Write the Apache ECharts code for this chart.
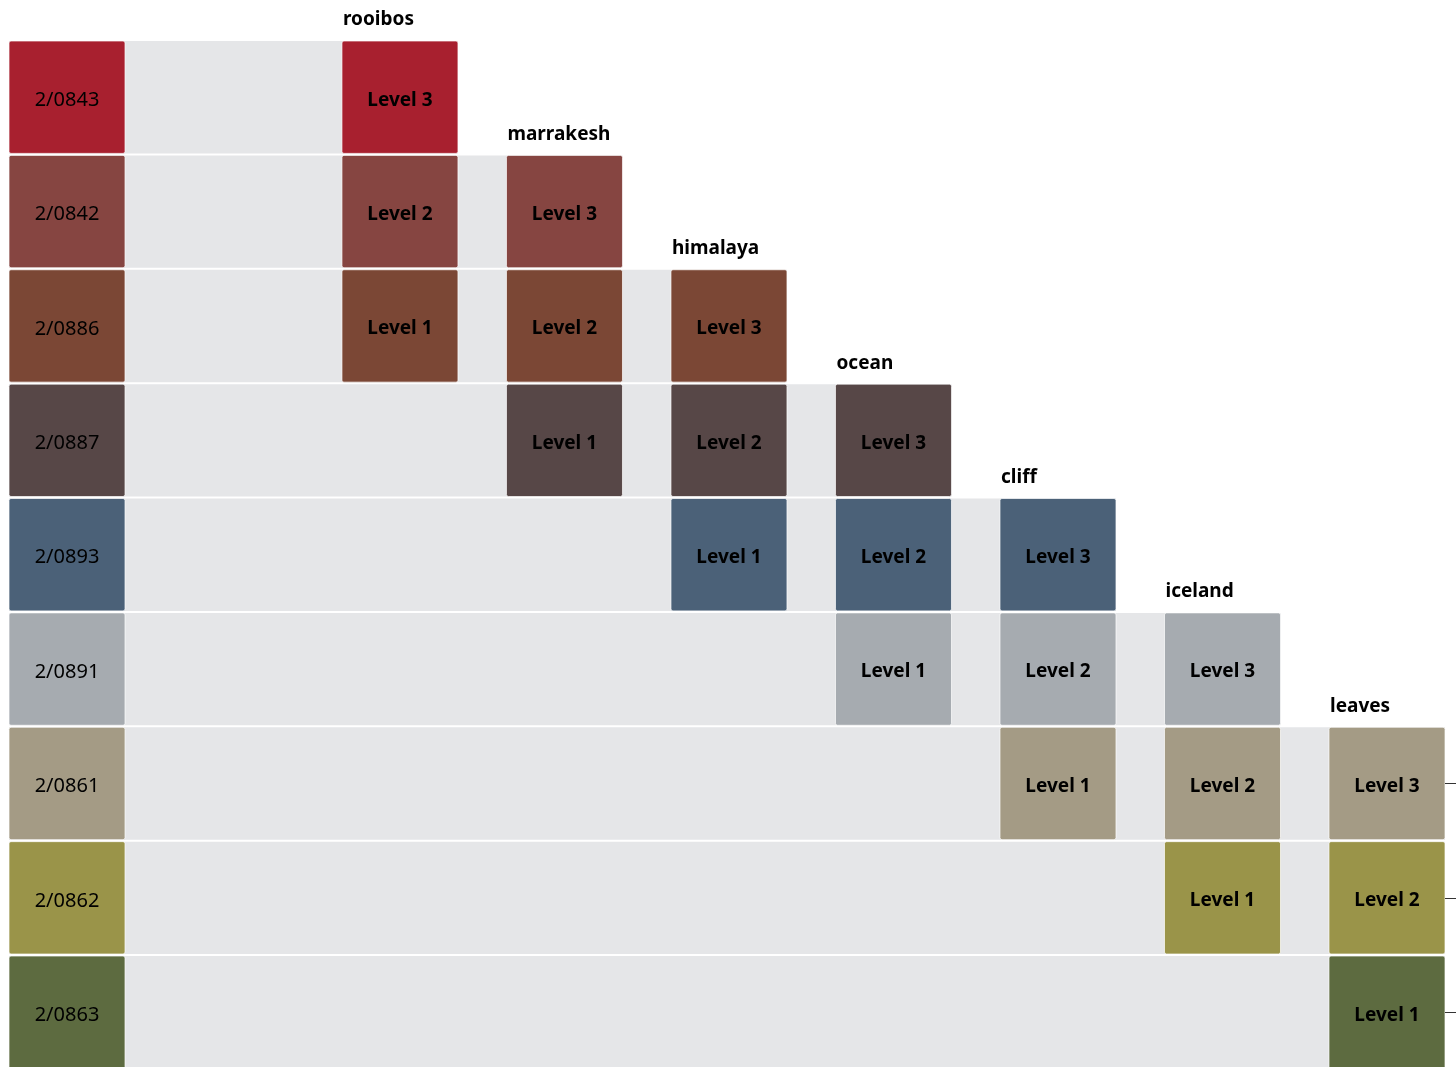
<!DOCTYPE html>
<html>
<head>
<meta charset="utf-8">
<script src="https://cdn.jsdelivr.net/npm/echarts@6/dist/echarts.min.js"></script>
<style>
  html, body { margin: 0; padding: 0; background: #fff; }
  #chart { width: 1456px; height: 1067px; }
</style>
</head>
<body>
<div id="chart"></div>
<script>
// colour swatches, top to bottom
const colorCodes = ['2/0843', '2/0842', '2/0886', '2/0887', '2/0893', '2/0891', '2/0861', '2/0862', '2/0863'];
const colorHex = ['#a8202f', '#864541', '#7b4735', '#574747', '#4b6178', '#a6abb0', '#a49b85', '#9a9449', '#5d6b40'];

// palettes and the swatches they use (Level 3, Level 2, Level 1)
const palettes = ['rooibos', 'marrakesh', 'himalaya', 'ocean', 'cliff', 'iceland', 'leaves'];
const paletteMembers = [
  ['2/0843', '2/0842', '2/0886'],
  ['2/0842', '2/0886', '2/0887'],
  ['2/0886', '2/0887', '2/0893'],
  ['2/0887', '2/0893', '2/0891'],
  ['2/0893', '2/0891', '2/0861'],
  ['2/0891', '2/0861', '2/0862'],
  ['2/0861', '2/0862', '2/0863']
];
const levelNames = ['Level 3', 'Level 2', 'Level 1'];

// layout (axis units: one column step = 1)
const CODE_X = -0.024;
const FIRST_PALETTE_X = 2;
const HALF_W = 0.3526;
const FONT = '"Noto Sans", sans-serif';

const cells = [];
colorCodes.forEach((code, i) => {
  cells.push({ x: CODE_X, row: i, color: colorHex[i], text: code, bold: false });
});
paletteMembers.forEach((members, p) => {
  members.forEach((code, j) => {
    const row = colorCodes.indexOf(code);
    cells.push({ x: FIRST_PALETTE_X + p, row: row, color: colorHex[row], text: levelNames[j], bold: true });
  });
});

// grey band per row: runs up to the last palette using that swatch
const bands = colorCodes.map((code, i) => {
  let last = CODE_X;
  paletteMembers.forEach((members, p) => {
    if (members.indexOf(code) >= 0) last = FIRST_PALETTE_X + p;
  });
  return [last, i];
});

const titles = palettes.map((name, p) => [FIRST_PALETTE_X + p, colorCodes.indexOf(paletteMembers[p][0])]);
const lastPalette = paletteMembers[paletteMembers.length - 1];

const chart = echarts.init(document.getElementById('chart'));

const rectOf = (api, x0, x1, row) => {
  const a = api.coord([x0, row - 0.5]);
  const b = api.coord([x1, row + 0.5]);
  const y = Math.min(a[1], b[1]);
  return { x: a[0], y: y + 1, width: b[0] - a[0], height: Math.abs(b[1] - a[1]) - 2 };
};

chart.setOption({
  animation: false,
  grid: { left: 9, right: 11, top: 40, height: 1029.4, containLabel: false, outerBoundsMode: 'none' },
  xAxis: { type: 'value', min: CODE_X - HALF_W, max: FIRST_PALETTE_X + palettes.length - 1 + HALF_W, show: false },
  yAxis: [
    { type: 'value', min: -0.5, max: 8.5, inverse: true, show: false },
    {
      // right-hand ticks, only on the rows of the last palette
      type: 'category', position: 'right', inverse: true, z: 5,
      data: colorCodes,
      axisLine: { show: false },
      axisTick: {
        show: true, inside: false, length: 11, alignWithLabel: true,
        interval: (index, value) => lastPalette.indexOf(value) >= 0,
        lineStyle: { color: '#333', width: 1 }
      },
      axisLabel: { show: false },
      splitLine: { show: false }
    }
  ],
  series: [
    {
      type: 'custom',
      name: 'bands',
      data: bands,
      renderItem: (params, api) => {
        const r = rectOf(api, CODE_X - HALF_W, api.value(0) + HALF_W, api.value(1));
        return { type: 'rect', shape: r, style: { fill: '#e5e6e8' } };
      }
    },
    {
      type: 'custom',
      name: 'cells',
      data: cells.map(c => [c.x, c.row]),
      renderItem: (params, api) => {
        const c = cells[params.dataIndex];
        const r = rectOf(api, api.value(0) - HALF_W, api.value(0) + HALF_W, api.value(1));
        return {
          type: 'group',
          children: [
            { type: 'rect', shape: Object.assign({ r: 2 }, r), style: { fill: c.color, stroke: 'rgba(255,255,255,0.7)', lineWidth: 1 } },
            {
              type: 'text',
              style: {
                text: c.text, x: r.x + r.width / 2, y: r.y + r.height / 2 + 3,
                align: 'center', verticalAlign: 'middle',
                fill: '#000', fontFamily: FONT, fontSize: c.bold ? 19 : 20,
                fontWeight: c.bold ? 'bold' : 'normal'
              }
            }
          ]
        };
      }
    },
    {
      type: 'custom',
      name: 'titles',
      data: titles,
      renderItem: (params, api) => {
        const p = api.coord([api.value(0) - HALF_W, api.value(1) - 0.5]);
        return {
          type: 'text',
          style: {
            text: palettes[params.dataIndex], x: p[0] + 1, y: p[1] - 20,
            align: 'left', verticalAlign: 'middle',
            fill: '#000', fontFamily: FONT, fontSize: 19, fontWeight: 'bold'
          }
        };
      }
    },
    {
      // invisible series bound to the tick axis
      type: 'scatter',
      name: 'ticks',
      yAxisIndex: 1,
      symbolSize: 0,
      silent: true,
      data: lastPalette.map(code => [FIRST_PALETTE_X + palettes.length - 1, code])
    }
  ]
});
</script>
</body>
</html>
